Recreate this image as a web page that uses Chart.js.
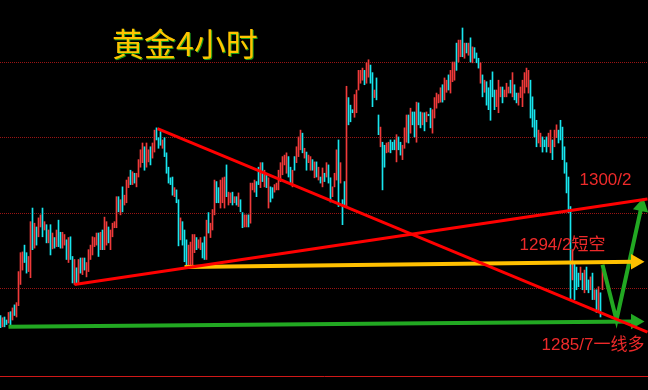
<!DOCTYPE html>
<html>
<head>
<meta charset="utf-8">
<script src="https://cdn.jsdelivr.net/npm/chart.js"></script>
<style>
  html, body { margin: 0; padding: 0; background: #000; }
  #wrap { width: 648px; height: 390px; }
</style>
</head>
<body>
<div id="wrap"><canvas id="goldChart"></canvas></div>
<script>
// =====================================================
// GOLD 4H BARS  (high / low per bar, price)
// =====================================================
const highs = [
  1286.5, 1286.2, 1286.3, 1285.9, 1286.9, 1287.0, 1287.5, 1287.9, 1288.2, 1292.3,
  1294.8, 1294.9, 1295.8, 1294.8, 1294.3, 1298.9, 1300.7, 1298.7, 1298.2, 1299.4,
  1299.8, 1300.7, 1298.9, 1298.5, 1297.8, 1298.5, 1297.4, 1296.8, 1297.8, 1299.1,
  1297.5, 1297.5, 1297.2, 1296.5, 1296.8, 1296.9, 1294.3, 1293.9, 1292.8, 1293.9,
  1294.1, 1294.1, 1294.1, 1293.5, 1295.2, 1295.8, 1296.9, 1296.8, 1297.4, 1297.4,
  1297.5, 1297.8, 1299.5, 1298.9, 1298.2, 1297.8, 1298.7, 1298.9, 1302.2, 1302.2,
  1301.8, 1303.5, 1302.4, 1304.4, 1304.8, 1305.7, 1305.5, 1305.3, 1305.3, 1307.1,
  1308.4, 1309.3, 1308.8, 1309.3, 1308.4, 1308.8, 1309.3, 1311.0, 1311.3, 1310.0,
  1310.8, 1309.7, 1310.0, 1308.0, 1306.1, 1304.7, 1304.8, 1303.4, 1303.1, 1301.8,
  1299.4, 1298.9, 1297.8, 1296.5, 1295.8, 1296.2, 1297.2, 1297.2, 1296.8, 1296.5,
  1296.8, 1296.1, 1296.9, 1299.1, 1300.1, 1298.7, 1300.5, 1304.4, 1304.2, 1303.4,
  1304.4, 1304.7, 1304.8, 1306.4, 1302.8, 1302.7, 1302.8, 1302.2, 1302.2, 1302.7,
  1301.8, 1300.1, 1299.8, 1299.8, 1299.8, 1304.0, 1304.0, 1304.4, 1304.2, 1306.1,
  1306.7, 1306.7, 1305.7, 1305.3, 1304.7, 1303.5, 1303.4, 1303.8, 1304.0, 1305.7,
  1306.7, 1307.5, 1307.7, 1308.0, 1307.5, 1306.1, 1305.7, 1307.5, 1308.8, 1310.1,
  1311.0, 1310.6, 1308.6, 1308.1, 1307.7, 1307.5, 1307.1, 1306.8, 1306.8, 1306.1,
  1304.8, 1306.0, 1305.3, 1306.7, 1306.4, 1304.7, 1303.5, 1305.3, 1308.4, 1309.7,
  1306.7, 1301.8, 1304.2, 1316.8, 1315.3, 1314.3, 1313.7, 1315.7, 1316.3, 1318.9,
  1318.9, 1319.2, 1318.9, 1319.9, 1320.3, 1319.6, 1318.6, 1316.3, 1317.9, 1313.0,
  1311.4, 1309.4, 1309.0, 1309.3, 1309.4, 1309.7, 1309.4, 1309.7, 1310.4, 1310.1,
  1309.4, 1309.0, 1311.3, 1313.0, 1313.0, 1313.9, 1313.4, 1313.4, 1314.7, 1314.6,
  1313.4, 1313.3, 1313.3, 1313.4, 1313.1, 1313.9, 1313.7, 1315.3, 1315.9, 1315.7,
  1316.6, 1317.0, 1317.9, 1317.6, 1318.3, 1318.9, 1320.0, 1320.0, 1322.5, 1322.9,
  1322.9, 1324.5, 1322.5, 1322.5, 1322.5, 1323.2, 1322.0, 1321.9, 1321.2, 1320.5,
  1319.9, 1318.3, 1317.6, 1317.4, 1316.6, 1317.6, 1318.7, 1316.3, 1316.3, 1317.6,
  1316.7, 1316.7, 1316.3, 1317.2, 1316.7, 1317.6, 1318.6, 1317.0, 1315.9, 1315.9,
  1316.7, 1317.6, 1318.6, 1319.2, 1318.9, 1317.6, 1315.4, 1313.7, 1312.3, 1311.0,
  1310.6, 1310.1, 1309.7, 1310.1, 1310.6, 1311.0, 1309.7, 1311.0, 1311.7, 1311.0,
  1312.3, 1311.4, 1308.8, 1306.7, 1304.8, 1300.9, 1295.2, 1293.5, 1292.9, 1292.1,
  1292.9, 1292.1, 1292.5, 1292.9, 1291.2, 1291.6, 1292.1, 1289.9, 1289.9, 1290.3,
  1289.5, 1292.5
];

const lows = [
  1284.9, 1285.0, 1285.0, 1285.3, 1285.5, 1285.0, 1285.9, 1286.5, 1286.3, 1287.8,
  1290.6, 1292.5, 1293.5, 1292.1, 1292.3, 1291.5, 1295.2, 1295.4, 1295.8, 1296.9,
  1298.2, 1296.9, 1297.8, 1296.1, 1296.1, 1294.5, 1295.3, 1295.4, 1295.6, 1295.6,
  1295.4, 1295.4, 1295.8, 1293.9, 1293.5, 1293.9, 1290.8, 1290.6, 1290.6, 1290.6,
  1292.1, 1291.9, 1292.5, 1291.6, 1292.3, 1293.9, 1294.5, 1295.6, 1295.8, 1294.3,
  1295.2, 1295.2, 1295.2, 1295.8, 1296.1, 1295.2, 1296.9, 1298.1, 1298.1, 1300.2,
  1299.8, 1300.2, 1301.1, 1301.4, 1303.4, 1303.8, 1303.8, 1304.0, 1303.5, 1304.8,
  1306.1, 1306.7, 1305.7, 1306.1, 1306.8, 1306.4, 1307.3, 1308.1, 1309.7, 1308.6,
  1309.0, 1308.6, 1307.5, 1305.3, 1304.0, 1303.8, 1302.4, 1302.2, 1301.4, 1295.7,
  1296.5, 1295.8, 1293.6, 1292.8, 1293.2, 1292.9, 1292.9, 1294.8, 1295.2, 1295.4,
  1295.2, 1294.1, 1293.9, 1293.9, 1297.4, 1296.8, 1297.8, 1299.8, 1301.4, 1301.4,
  1300.7, 1301.4, 1300.7, 1302.2, 1301.1, 1301.4, 1301.1, 1301.4, 1301.1, 1300.9,
  1300.2, 1298.1, 1298.2, 1298.2, 1298.2, 1298.7, 1303.1, 1302.8, 1302.2, 1303.8,
  1303.4, 1304.2, 1303.5, 1303.4, 1300.7, 1301.5, 1302.0, 1302.8, 1303.1, 1303.1,
  1304.2, 1305.1, 1306.4, 1305.3, 1304.8, 1304.0, 1303.5, 1305.7, 1306.7, 1307.5,
  1308.4, 1308.0, 1307.3, 1305.7, 1306.7, 1305.7, 1305.7, 1304.7, 1304.8, 1304.4,
  1304.0, 1303.5, 1304.2, 1304.8, 1304.0, 1301.5, 1302.2, 1303.5, 1304.4, 1300.9,
  1304.0, 1298.5, 1300.9, 1300.9, 1311.7, 1312.1, 1313.3, 1312.7, 1313.3, 1316.3,
  1317.2, 1317.6, 1317.0, 1317.2, 1318.0, 1317.2, 1314.1, 1315.3, 1315.0, 1310.4,
  1308.8, 1303.1, 1306.1, 1308.0, 1308.1, 1308.0, 1308.4, 1308.4, 1306.8, 1308.4,
  1307.7, 1307.1, 1308.6, 1309.4, 1309.3, 1310.6, 1311.7, 1310.1, 1309.4, 1311.7,
  1311.3, 1311.7, 1310.9, 1312.1, 1312.9, 1311.3, 1310.6, 1312.6, 1313.9, 1314.6,
  1314.7, 1314.7, 1315.0, 1316.0, 1316.3, 1315.9, 1317.4, 1317.6, 1318.9, 1320.0,
  1320.7, 1320.7, 1320.5, 1321.2, 1320.9, 1320.0, 1319.9, 1320.5, 1319.9, 1319.2,
  1317.2, 1315.4, 1316.0, 1314.3, 1313.7, 1312.3, 1315.4, 1313.7, 1314.1, 1313.3,
  1315.4, 1314.6, 1315.4, 1315.4, 1315.9, 1315.9, 1315.4, 1315.0, 1314.6, 1314.3,
  1315.3, 1314.1, 1315.9, 1316.7, 1315.9, 1312.6, 1311.4, 1310.1, 1308.8, 1309.3,
  1308.8, 1308.1, 1308.8, 1308.1, 1308.8, 1308.0, 1307.1, 1308.8, 1310.0, 1309.3,
  1309.7, 1307.1, 1305.3, 1302.7, 1300.1, 1288.6, 1291.2, 1288.6, 1289.9, 1290.3,
  1291.2, 1289.9, 1289.5, 1289.9, 1289.5, 1289.9, 1288.6, 1288.6, 1286.9, 1286.9,
  1286.3, 1289.9
];

// u = rising bar (red), d = falling bar (cyan)
const barDir = [
  "duddududuu", "uudduududu", "ududududud", "duududdudu", "duduuuuuud",
  "uduuduuuud", "uduuududuu", "uuduuduudd", "dudddddudd", "uddduuuudu",
  "udduduuudd", "uuuduududu", "dduuduuudd", "udududduuu", "uuuudduduu",
  "ududuududu", "dududduuud", "udduddduuu", "uuduuddudd", "udduudddud",
  "duuududdud", "dududduuuu", "uduuduuudu", "ududududdd", "ududdddduu",
  "uduuududdu", "uuuuuddddu", "uddduuduud", "dddddduddd", "ududdududu",
  "du"
].join("");

// drawn lines: [bar index, price]
const trendDown = [[78.5, 1311.2], [323.5, 1284.3]];
const trendUp   = [[37, 1290.6], [323.5, 1301.9]];
const shortLine = [[92, 1292.9], [317.5, 1293.6]];   // 1294/2 short
const longLine  = [[4, 1285.0], [317.5, 1285.7]];    // 1285/7 long
const vPath     = [[301, 1293.2], [308, 1285.9], [320.5, 1300.9]];

const gridLevels = [1290, 1300, 1310, 1320];

const noteText = ["1300/2", "1294/2短空", "1285/7一线多"];
const noteAt   = [[289.5, 1303.8], [259.5, 1295.2], [270.5, 1282.0]];

const titleText = "黄金4小时";

// =====================================================
const UP_COLOR = "#f03a3a";
const DOWN_COLOR = "#18e6ee";

function pts(arr) {
    return arr.map(function (p) { return { x: p[0], y: p[1] }; });
}

function lineSet(arr, color, width, arrowRot) {
    const last = arr.length - 1;
    return {
        type: "line",
        data: pts(arr),
        borderColor: color,
        borderWidth: width,
        tension: 0,
        fill: false,
        order: 1,
        pointStyle: "triangle",
        pointRotation: arrowRot === undefined ? 0 : arrowRot,
        pointBackgroundColor: color,
        pointBorderColor: color,
        pointBorderWidth: 0,
        pointRadius: function (ctx) {
            return (arrowRot !== undefined && ctx.dataIndex === last) ? 9 : 0;
        }
    };
}

const blackBg = {
    id: "blackBg",
    beforeDraw: function (chart) {
        const c = chart.ctx;
        c.save();
        c.fillStyle = "#000";
        c.fillRect(0, 0, chart.width, chart.height);
        c.restore();
    }
};

const notes = {
    id: "notes",
    afterDatasetsDraw: function (chart) {
        const c = chart.ctx;
        const xs = chart.scales.x, ys = chart.scales.y;
        c.save();
        // title
        c.font = '32px "Noto Sans CJK SC", sans-serif';
        c.textBaseline = "middle";
        c.fillStyle = "#1a9a1a";
        c.fillText(titleText, 113, 45);
        c.fillStyle = "#ffc400";
        c.fillText(titleText, 112, 44);
        // level notes
        c.font = '17px "Liberation Sans", "Noto Sans CJK SC", sans-serif';
        c.textBaseline = "alphabetic";
        c.fillStyle = "#ee2a2a";
        noteText.forEach(function (t, i) {
            c.fillText(t, xs.getPixelForValue(noteAt[i][0]), ys.getPixelForValue(noteAt[i][1]));
        });
        c.restore();
    }
};

const canvas = document.getElementById("goldChart");

new Chart(canvas, {
    type: "bar",
    data: {
        datasets: [
            lineSet(trendDown, "#ff0000", 3),
            lineSet(trendUp, "#ff0000", 3),
            lineSet(shortLine, "#ffc000", 4, 90),
            lineSet(longLine, "#22a822", 4, 90),
            lineSet(vPath, "#22a822", 4, 12),
            {
                type: "bar",
                data: highs.map(function (h, i) { return { x: i, y: [lows[i], h] }; }),
                backgroundColor: highs.map(function (h, i) {
                    return barDir[i] === "u" ? UP_COLOR : DOWN_COLOR;
                }),
                borderWidth: 0,
                barThickness: 1,
                order: 10
            }
        ]
    },
    options: {
        responsive: true,
        maintainAspectRatio: false,
        animation: false,
        events: [],
        layout: { autoPadding: false, padding: { left: 0, right: 0, top: 0, bottom: 14 } },
        plugins: {
            legend: { display: false },
            tooltip: { enabled: false }
        },
        scales: {
            x: {
                type: "linear",
                offset: false,
                min: -0.25,
                max: 323.75,
                ticks: { display: false },
                grid: { display: false, drawTicks: false, offset: false },
                border: { display: true, color: "#d01818", width: 1 }
            },
            y: {
                min: 1278.5,
                max: 1328.2,
                ticks: { display: false, stepSize: 10 },
                grid: {
                    drawTicks: false,
                    lineWidth: 1,
                    color: function (ctx) {
                        return gridLevels.indexOf(ctx.tick.value) >= 0 ? "#9a1414" : "rgba(0,0,0,0)";
                    }
                },
                border: { display: false, dash: [1, 1] }
            }
        }
    },
    plugins: [blackBg, notes]
});
</script>
</body>
</html>
